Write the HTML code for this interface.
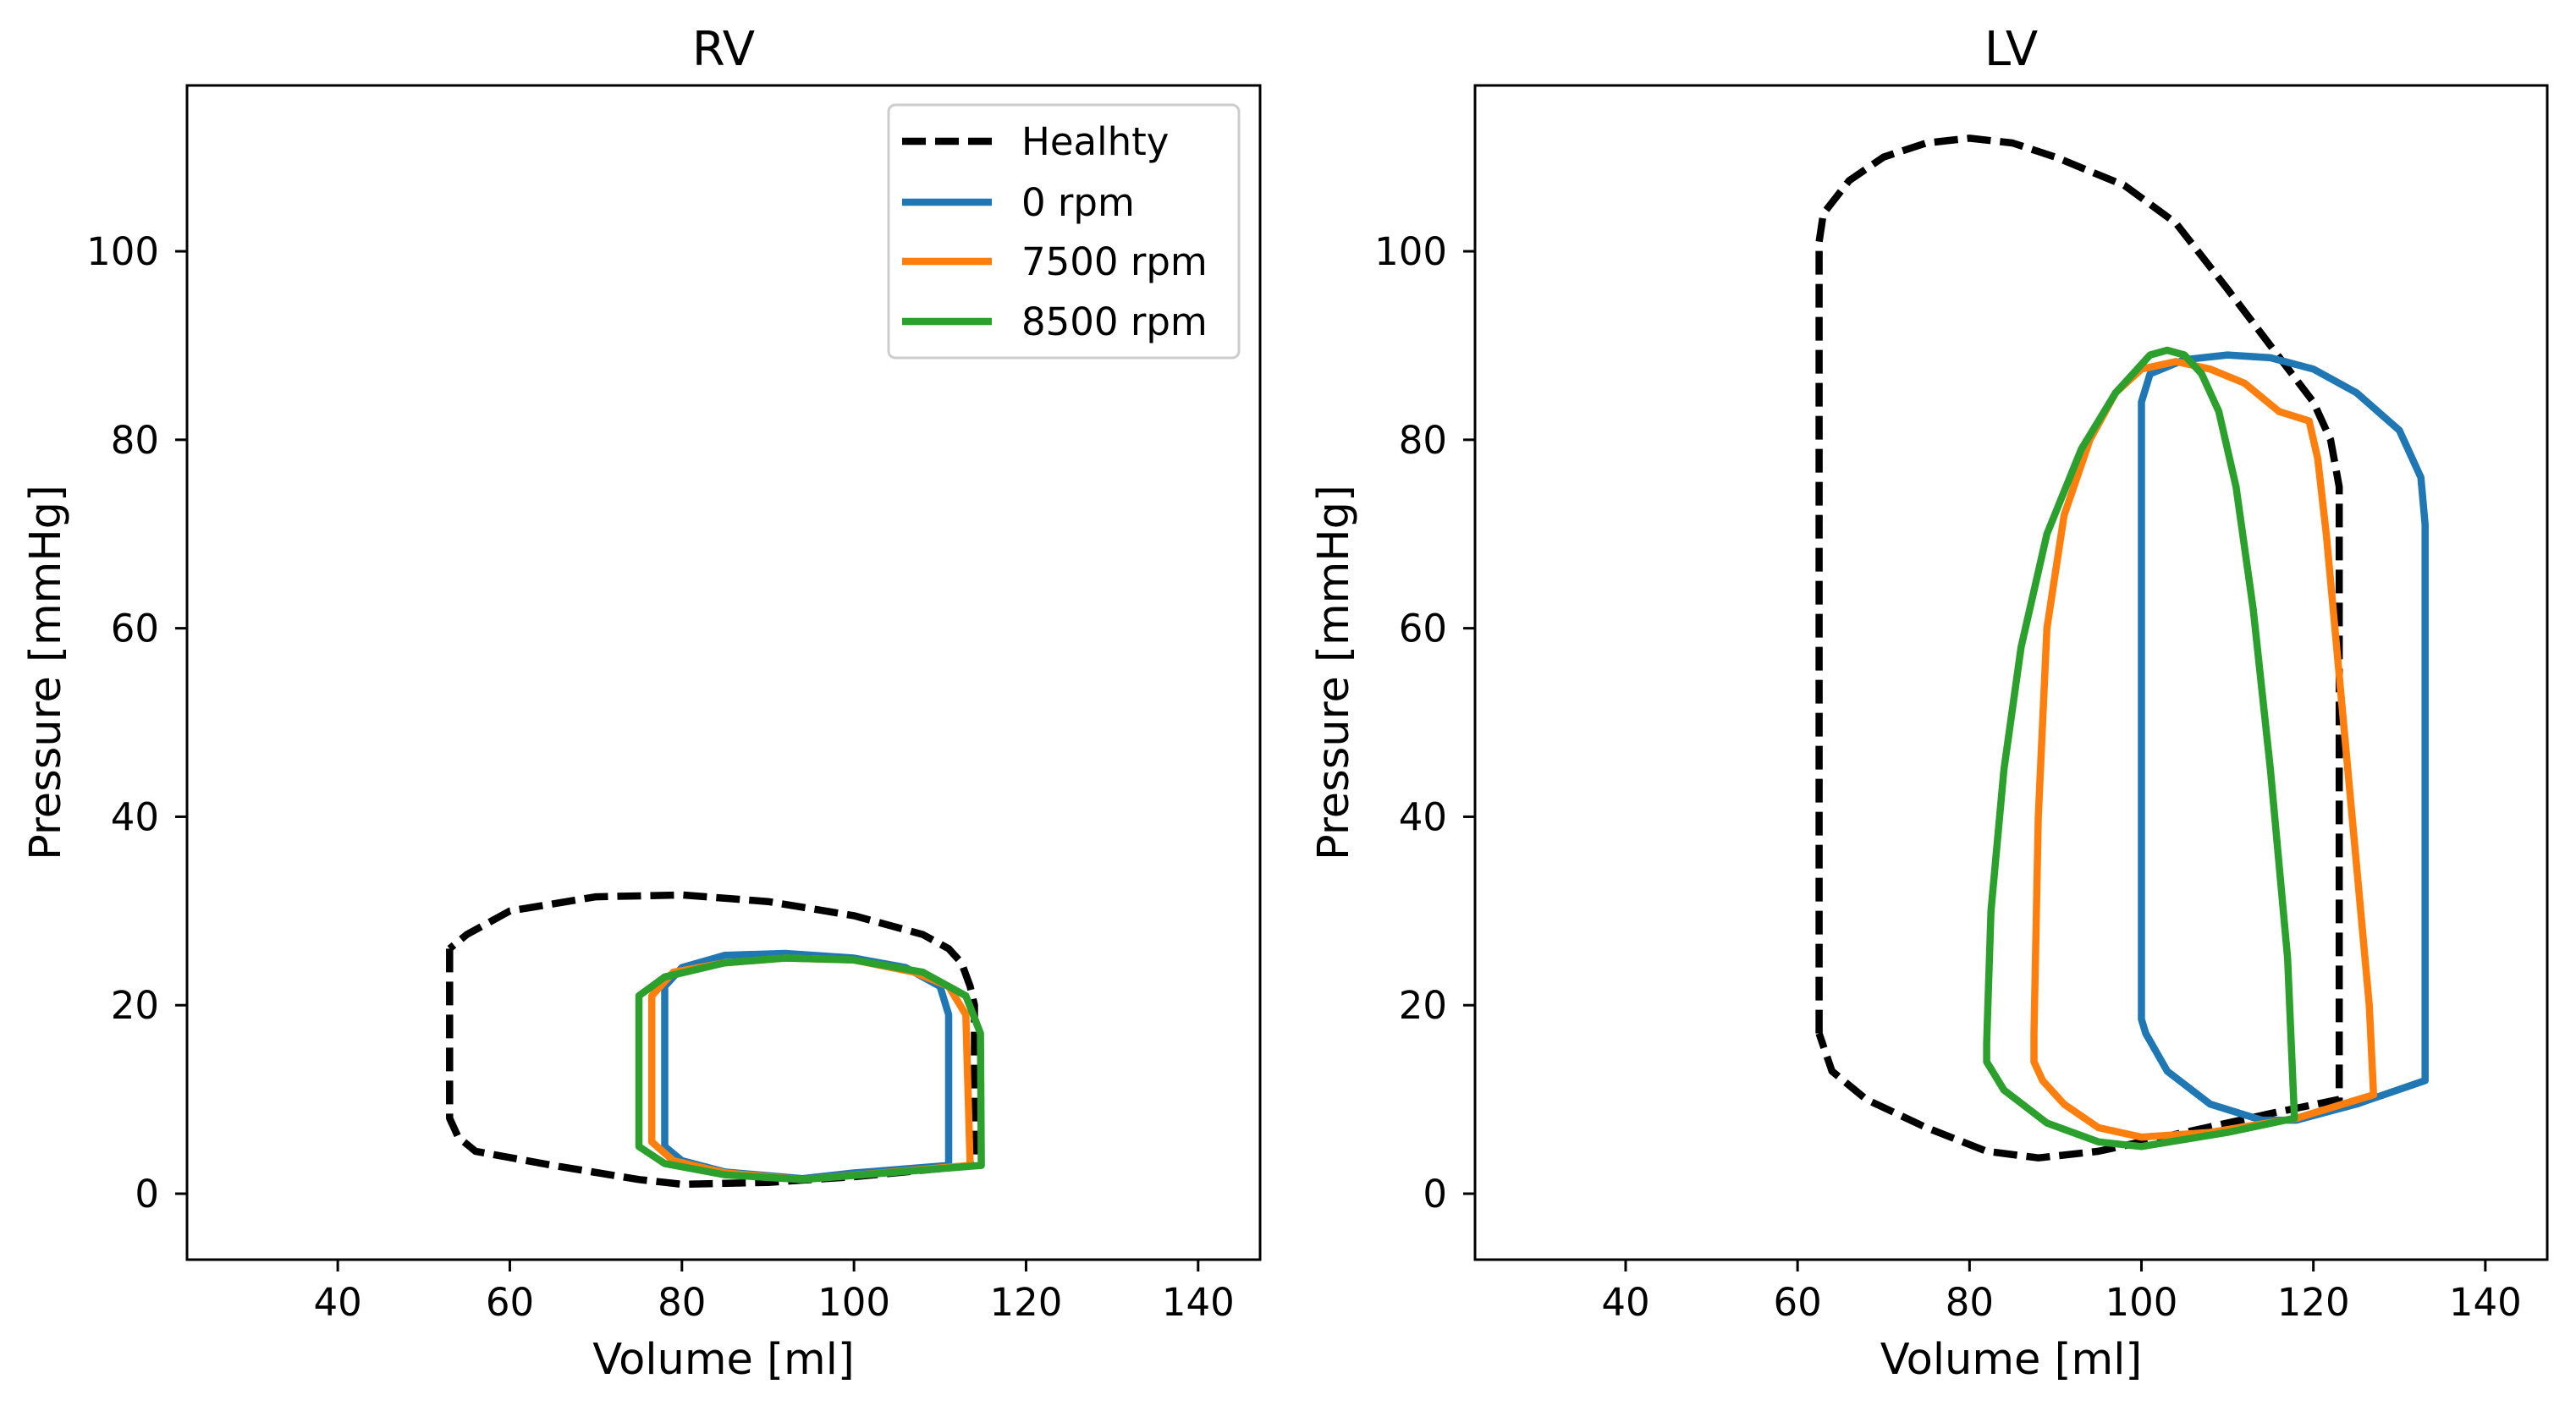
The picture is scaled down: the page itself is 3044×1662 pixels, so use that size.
<!DOCTYPE html>
<html><head><meta charset="utf-8"><style>
html,body{margin:0;padding:0;background:#fff;}
svg{display:block;font-family:"DejaVu Sans","Liberation Sans",sans-serif;}
</style></head><body>
<svg id="chart" width="3044" height="1662" viewBox="0 0 3044 1662">
<rect width="3044" height="1662" fill="#fff"/>
</svg>
<script>
const xTicks=[40,60,80,100,120,140];
const yTicks=[0,20,40,60,80,100];
const seriesNames=["Healhty","0 rpm","7500 rpm","8500 rpm"];
const seriesColors=["#000000","#1f77b4","#ff7f0e","#2ca02c"];
const rvHealthyV=[53,53,54,56,65,75,80,90,100,114,114,114,113.5,112.5,111,108,100,90,80,70,60,55,53];
const rvHealthyP=[26,8,6,4.5,3,1.5,1,1.2,1.8,3,5,20,22,24.5,26,27.5,29.5,31,31.7,31.5,30,27.5,26];
const rv0V=[78,78,80,85,92,100,106,110,111,111,100,94,85,80,78];
const rv0P=[5,22,24,25.3,25.5,25,24,22,19,3,2.2,1.6,2.3,3.5,5];
const rv7500V=[76.5,76.5,79,85,92,100,107,111,113,113.5,94,85,79,76.5];
const rv7500P=[5.5,21,23.5,24.5,25,24.8,23.5,22,19,3,1.5,2.2,3.5,5.5];
const rv8500V=[75,75,78,85,92,100,108,113,114.7,114.8,94,85,78,75];
const rv8500P=[5,21,23,24.5,25,24.8,23.5,21,17,3,1.5,2,3.2,5];
const lvHealthyV=[62.5,62.5,63,66,70,75,80,85,90,98,104,110,115,120,122,123,123,115,105,95,88,82,75,68,64,62.5];
const lvHealthyP=[17,101,104,107.5,110,111.5,112,111.5,110,107,103,96,90,84,80,75,10,8.5,6.5,4.5,3.8,4.5,7,10,13,17];
const lv0V=[100,100,101,105,110,115,120,125,130,132.5,133,133,125,118,114,108,103,100.5,100];
const lv0P=[18.5,84,87,88.5,89,88.7,87.5,85,81,76,71,12,9.5,7.8,7.8,9.5,13,17,18.5];
const lv7500V=[87.5,88,89,91,94,97,100,104,108,112,116,119.5,120.5,121.5,123,125,126.5,127,118,108,100,95,91,88.5,87.5,87.5];
const lv7500P=[17,40,60,72,80,85,87.5,88.3,87.5,86,83,82,78,70,55,35,20,10.5,8,6.5,6,7,9.5,12,14,17];
const lv8500V=[82,82.5,84,86,89,93,97,101,103,105,107,109,111,113,115,117,117.8,110,100,95,89,84,82,82];
const lv8500P=[16,30,45,58,70,79,85,89,89.5,89,87,83,75,62,45,25,8,6.5,5,5.5,7.5,11,14,16];

const NS="http://www.w3.org/2000/svg";
const svg=document.getElementById('chart');
function mk(tag,attrs,parent,text){const e=document.createElementNS(NS,tag);for(const k in attrs)e.setAttribute(k,attrs[k]);if(text!==undefined)e.textContent=text;(parent||svg).appendChild(e);return e;}
const xMin=22.48,xMax=147.2,yMin=-7.0,yMax=117.6;
function panel(name,left,right,top,bottom,title,series,legend){
  const g=mk('g',{});
  
  
  const sx=v=>left+(v-xMin)/(xMax-xMin)*(right-left);
  const sy=p=>bottom-(p-yMin)/(yMax-yMin)*(bottom-top);
  const clipId='clip-'+name;
  const cp=mk('clipPath',{id:clipId},g);mk('rect',{x:left,y:top,width:right-left,height:bottom-top},cp);
  const lg=mk('g',{'clip-path':'url(#'+clipId+')'},g);
  series.forEach((s,i)=>{
    const pts=s.v.map((v,j)=>sx(v).toFixed(1)+','+sy(s.p[j]).toFixed(1)).join(' ');
    const pl=mk('polyline',{points:pts,fill:'none',stroke:seriesColors[i],'stroke-width':8.5,'stroke-linejoin':'round','stroke-linecap':i==0?'butt':'round'},lg);
    if(i==0)pl.setAttribute('stroke-dasharray','28 11');
    
    
  });
  const fr=mk('rect',{x:left,y:top,width:right-left,height:bottom-top,fill:'none',stroke:'#000','stroke-width':3},g);
  
  
  xTicks.forEach(t=>{
    const x=sx(t);
    mk('line',{x1:x,x2:x,y1:bottom,y2:bottom+14,stroke:'#000','stroke-width':3},g);
    const tx=mk('text',{x:x,y:1555,'font-size':45,'text-anchor':'middle'},g,String(t));
    
    
  });
  yTicks.forEach(t=>{
    const y=sy(t);
    mk('line',{x1:left-14,x2:left,y1:y,y2:y,stroke:'#000','stroke-width':3},g);
    const tx=mk('text',{x:left-33,y:y+16,'font-size':45,'text-anchor':'end'},g,String(t));
    
    
  });
  const ti=mk('text',{x:(left+right)/2,y:77,'font-size':56,'text-anchor':'middle'},g,title);
  
  
  const xl=mk('text',{x:(left+right)/2,y:1624,'font-size':51,'text-anchor':'middle'},g,'Volume [ml]');
  
  
  const yx=left-150,yc=(top+bottom)/2;
  const yl=mk('text',{x:yx,y:yc,'font-size':51,'text-anchor':'middle',transform:'rotate(-90 '+yx+' '+yc+')'},g,'Pressure [mmHg]');
  
  
  if(legend){
    const lgd=mk('g',{},g);
    
    
    mk('rect',{x:1050,y:124,width:414,height:299,rx:8,fill:'#fff',stroke:'#ccc','stroke-width':3},lgd);
    const ys=[167,239,309,380];
    seriesNames.forEach((n,i)=>{
      const en=mk('g',{},lgd);
      
      
      const ln=mk('line',{x1:1066,x2:1172,y1:ys[i],y2:ys[i],stroke:seriesColors[i],'stroke-width':8.5},en);
      if(i==0)ln.setAttribute('stroke-dasharray','28 11');
      mk('text',{x:1207,y:ys[i]+16,'font-size':45},en,n);
    });
  }
}
panel('rv',221,1489,101,1489,'RV',[
  {v:rvHealthyV,p:rvHealthyP},{v:rv0V,p:rv0P},{v:rv7500V,p:rv7500P},{v:rv8500V,p:rv8500P}],true);
panel('lv',1743,3010,101,1489,'LV',[
  {v:lvHealthyV,p:lvHealthyP},{v:lv0V,p:lv0P},{v:lv7500V,p:lv7500P},{v:lv8500V,p:lv8500P}],false);
</script>
</body></html>
